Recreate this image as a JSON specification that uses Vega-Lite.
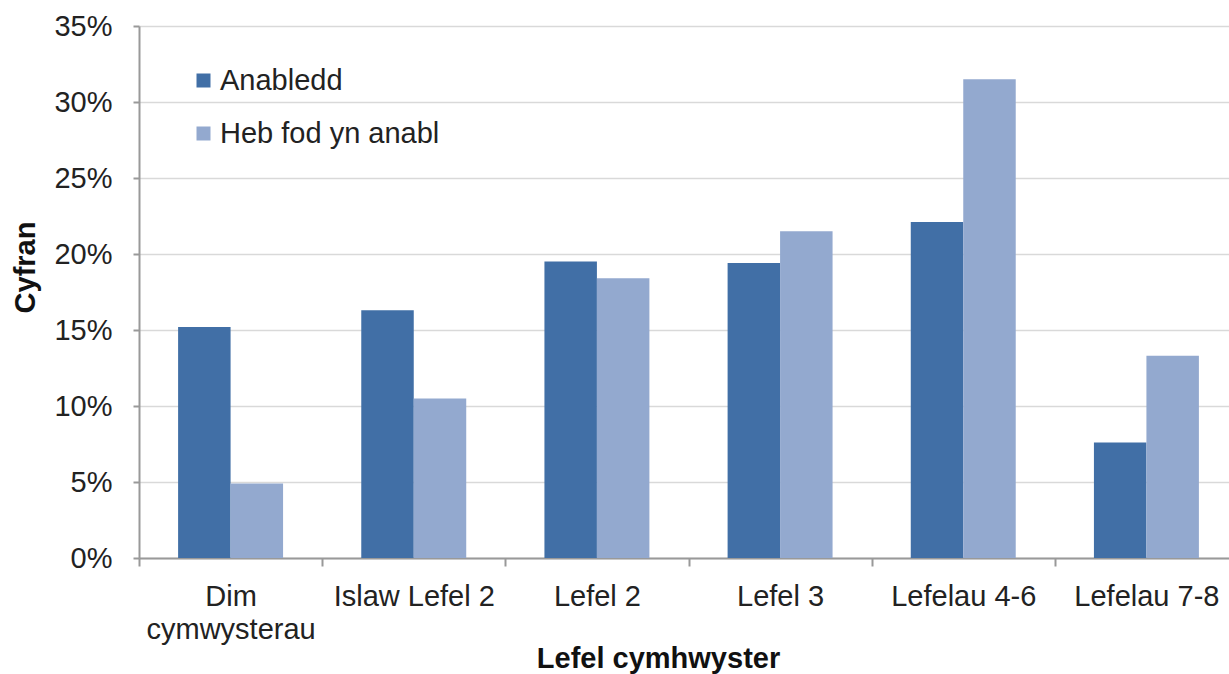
{
  "$schema": "https://vega.github.io/schema/vega-lite/v6.json",
  "width": 1091,
  "height": 532,
  "autosize": {"type": "none"},
  "padding": {"left": 139, "top": 26, "right": 0, "bottom": 116},
  "background": "white",
  "config": {
    "font": "Liberation Sans",
    "view": {"stroke": null},
    "axis": {"labelFont": "Liberation Sans", "titleFont": "Liberation Sans", "labelColor": "#222", "titleColor": "#111"}
  },
  "data": {
    "values": [
      {"level": "Dim cymwysterau", "group": "Anabledd", "value": 15.2},
      {"level": "Dim cymwysterau", "group": "Heb fod yn anabl", "value": 4.9},
      {"level": "Islaw Lefel 2", "group": "Anabledd", "value": 16.3},
      {"level": "Islaw Lefel 2", "group": "Heb fod yn anabl", "value": 10.5},
      {"level": "Lefel 2", "group": "Anabledd", "value": 19.5},
      {"level": "Lefel 2", "group": "Heb fod yn anabl", "value": 18.4},
      {"level": "Lefel 3", "group": "Anabledd", "value": 19.4},
      {"level": "Lefel 3", "group": "Heb fod yn anabl", "value": 21.5},
      {"level": "Lefelau 4-6", "group": "Anabledd", "value": 22.1},
      {"level": "Lefelau 4-6", "group": "Heb fod yn anabl", "value": 31.5},
      {"level": "Lefelau 7-8", "group": "Anabledd", "value": 7.6},
      {"level": "Lefelau 7-8", "group": "Heb fod yn anabl", "value": 13.3}
    ]
  },
  "mark": {"type": "bar"},
  "encoding": {
    "x": {
      "field": "level",
      "type": "nominal",
      "sort": null,
      "scale": {"paddingInner": 0, "paddingOuter": 0, "range": [0, 1099]},
      "axis": {
        "title": "Lefel cymhwyster",
        "titleFontSize": 29,
        "titleFontWeight": "bold",
        "titleX": 519,
        "titleY": 109,
        "titleBaseline": "alphabetic",
        "titleAlign": "center",
        "labelAngle": 0,
        "labelFontSize": 29,
        "labelPadding": 16,
        "labelLineHeight": 33,
        "labelLimit": 0,
        "labelExpr": "datum.value == 'Dim cymwysterau' ? ['Dim', 'cymwysterau'] : datum.value",
        "tickBand": "extent",
        "tickSize": 8,
        "tickColor": "#999",
        "tickWidth": 2,
        "domainColor": "#999",
        "domainWidth": 2,
        "grid": false
      }
    },
    "xOffset": {
      "field": "group",
      "type": "nominal",
      "scale": {"paddingInner": 0, "paddingOuter": 0.745}
    },
    "y": {
      "field": "value",
      "type": "quantitative",
      "scale": {"domain": [0, 35], "nice": false},
      "axis": {
        "title": "Cyfran",
        "titleFontSize": 29,
        "titleFontWeight": "bold",
        "titleAngle": -90,
        "titleX": -105,
        "titleY": 241,
        "titleBaseline": "alphabetic",
        "titleAlign": "center",
        "values": [0, 5, 10, 15, 20, 25, 30, 35],
        "labelExpr": "datum.value + '%'",
        "labelFontSize": 29,
        "labelPadding": 21,
        "tickSize": 6,
        "tickColor": "#999",
        "tickWidth": 2,
        "domainColor": "#999",
        "domainWidth": 2,
        "gridColor": "#d9d9d9",
        "gridWidth": 1.5
      }
    },
    "color": {
      "field": "group",
      "type": "nominal",
      "scale": {"domain": ["Anabledd", "Heb fod yn anabl"], "range": ["#416FA6", "#93A9CF"]},
      "legend": {
        "title": null,
        "orient": "none",
        "legendX": 50,
        "legendY": 40,
        "symbolType": "square",
        "symbolSize": 196,
        "symbolStrokeWidth": 0,
        "labelFontSize": 29,
        "labelColor": "#222",
        "labelFont": "Liberation Sans",
        "labelLimit": 0,
        "rowPadding": 23,
        "labelOffset": 2
      }
    }
  }
}
